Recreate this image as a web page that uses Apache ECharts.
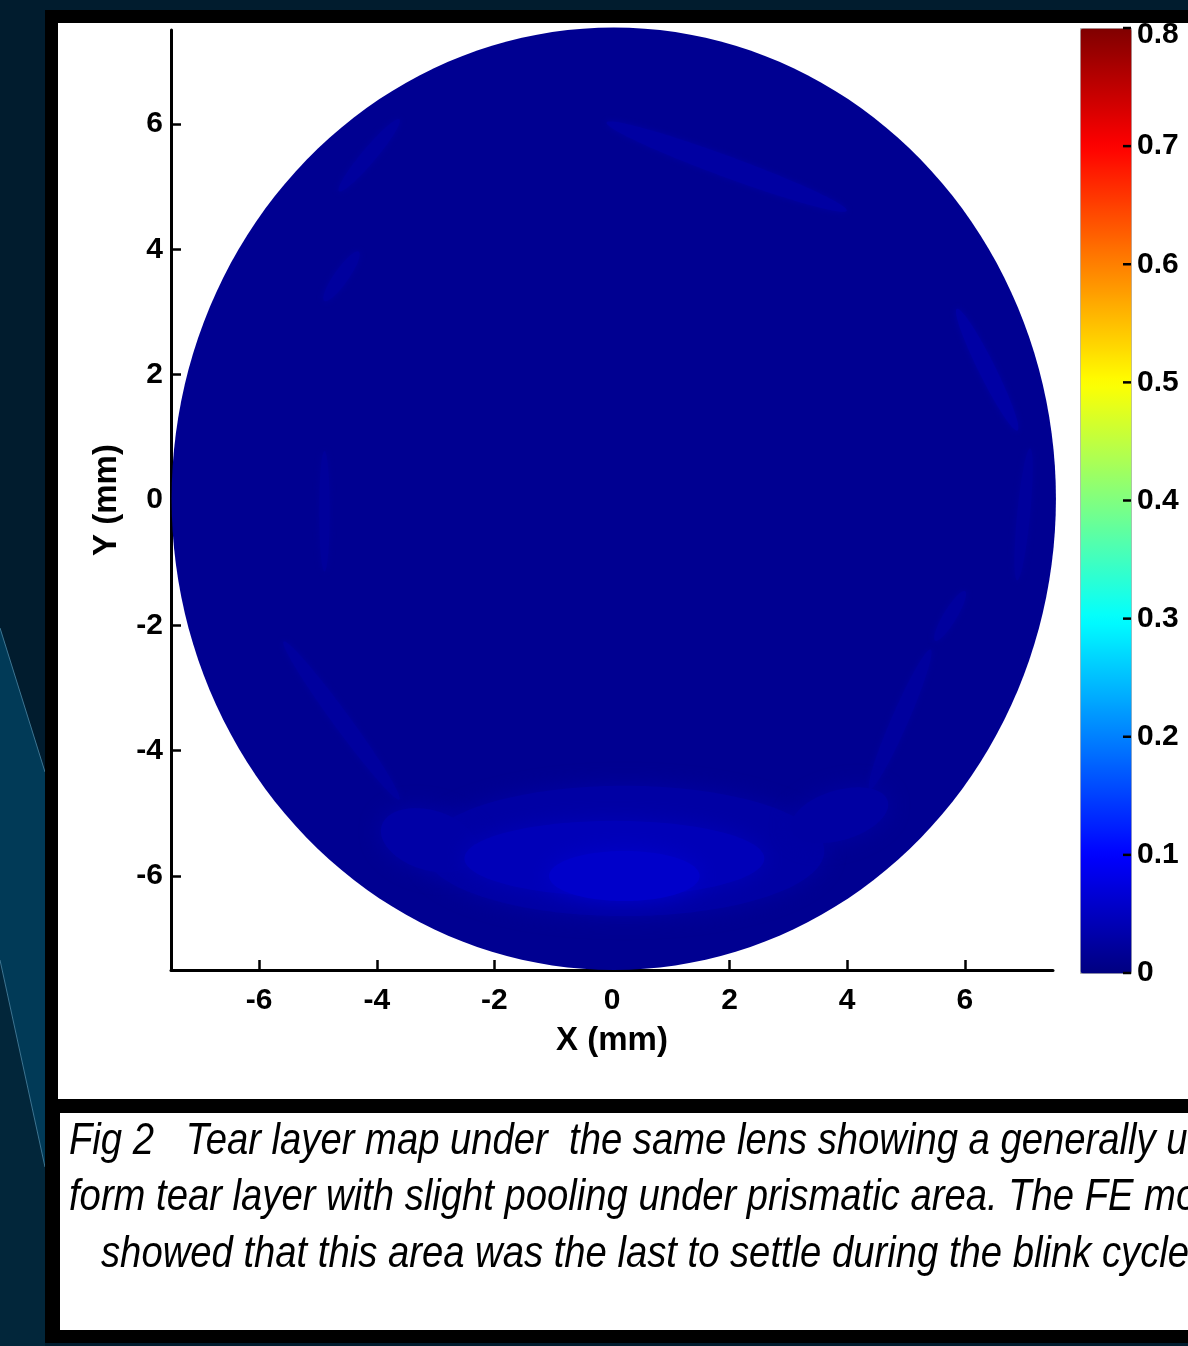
<!DOCTYPE html>
<html>
<head>
<meta charset="utf-8">
<script src="https://cdn.jsdelivr.net/npm/echarts@6/dist/echarts.min.js"></script>
<style>
  html, body { margin: 0; padding: 0; background: #011c2e; }
  #tearMap { width: 1188px; height: 1346px; }
</style>
</head>
<body>
<div id="tearMap"></div>
<script>
// tick labels
const xTicks = [-6, -4, -2, 0, 2, 4, 6];
const yTicks = [-6, -4, -2, 0, 2, 4, 6];
const cbTicks = [0, 0.1, 0.2, 0.3, 0.4, 0.5, 0.6, 0.7, 0.8];

// tear layer regions in mm: [cx, cy, rx, ry, angleDeg, thickness]
const lensDisc = [[0.03, 0.02, 7.52, 7.52, 0, 0.013]];
const rimStreaks = [
  [1.95, 5.32, 2.16, 0.17, -19, 0.027],
  [-4.13, 5.5, 0.77, 0.12, 48, 0.024],
  [-4.6, 3.57, 0.49, 0.12, 53, 0.024],
  [-4.89, -0.18, 0.96, 0.09, 90, 0.021],
  [6.38, 2.08, 1.1, 0.14, -62, 0.028],
  [7.0, -0.23, 1.06, 0.11, 84, 0.022],
  [5.75, -1.85, 0.47, 0.11, 57, 0.024],
  [-4.6, -3.52, 1.6, 0.14, -52, 0.024],
  [4.9, -3.5, 1.23, 0.14, 65, 0.024]
];
const poolPatches = [
  [0.21, -5.6, 3.4, 1.04, 0, 0.028],
  [-3.1, -5.43, 0.85, 0.48, -15, 0.03],
  [3.87, -5.03, 0.85, 0.4, 15, 0.027],
  [0.04, -5.72, 2.55, 0.6, 0, 0.044],
  [0.21, -6.0, 1.28, 0.4, 0, 0.058]
];

const captionLines = [
  'Fig 2   Tear layer map under  the same lens showing a generally uni-',
  'form tear layer with slight pooling under prismatic area. The FE model',
  'showed that this area was the last to settle during the blink cycle.'
];

// jet colour map
const jet = ['#000080', '#0000ff', '#0080ff', '#00ffff', '#80ff80', '#ffff00', '#ff8000', '#ff0000', '#800000'];

const font = 'Liberation Sans, Arial, sans-serif';

function ellipsePoints(api, cx, cy, rx, ry, deg) {
  const a = deg * Math.PI / 180;
  const pts = [];
  for (let i = 0; i < 180; i++) {
    const t = i / 180 * Math.PI * 2;
    const lx = rx * Math.cos(t), ly = ry * Math.sin(t);
    pts.push(api.coord([cx + lx * Math.cos(a) - ly * Math.sin(a), cy + lx * Math.sin(a) + ly * Math.cos(a)]));
  }
  return pts;
}

function renderEllipse(blur) {
  return function (params, api) {
    const pts = ellipsePoints(api, api.value(0), api.value(1), api.value(2), api.value(3), api.value(4));
    const d = lensDisc[0];
    const color = api.visual('color');
    const el = {
      type: 'polygon',
      shape: { points: pts },
      style: { fill: color, shadowBlur: blur, shadowColor: color }
    };
    if (blur) {
      // keep soft edges inside the lens
      el.clipPath = { type: 'polygon', shape: { points: ellipsePoints(api, d[0], d[1], d[2], d[3], 0) } };
    }
    return el;
  };
}

// colorbar tick marks on the bar's right edge
function renderCbTick(params, api) {
  const p = api.coord([api.value(0), api.value(1)]);
  return {
    type: 'line',
    shape: { x1: p[0] - 8, y1: p[1], x2: p[0], y2: p[1] },
    style: { stroke: '#000', lineWidth: 2.5 }
  };
}

// caption width (text is condensed in the figure)
const ctx = document.createElement('canvas').getContext('2d');
ctx.font = 'italic 44px "Liberation Sans"';
const capScale = 1088 / ctx.measureText('showed that this area was the last to settle during the blink cycle').width;

const chart = echarts.init(document.getElementById('tearMap'));
chart.setOption({
  animation: false,
  backgroundColor: '#011c2e',
  textStyle: { fontFamily: font },
  grid: [
    { left: 171, top: 30, width: 882, height: 940, outerBoundsMode: 'none' },
    { left: 1080, top: 28, width: 51, height: 945, outerBoundsMode: 'none' }
  ],
  xAxis: [
    {
      type: 'value', min: -7.5, max: 7.5,
      name: 'X (mm)', nameLocation: 'middle', nameGap: 54,
      nameTextStyle: { fontSize: 33, fontWeight: 'bold', color: '#000', fontFamily: font },
      axisLine: { onZero: false, lineStyle: { color: '#000', width: 3 } },
      axisTick: { inside: true, length: 10, customValues: xTicks, lineStyle: { color: '#000', width: 2.5 } },
      axisLabel: { customValues: xTicks, fontSize: 30, fontWeight: 'bold', color: '#000', margin: 16, fontFamily: font },
      splitLine: { show: false }
    },
    { type: 'value', gridIndex: 1, min: 0, max: 1, show: false }
  ],
  yAxis: [
    {
      type: 'value', min: -7.5, max: 7.5,
      name: 'Y (mm)', nameLocation: 'middle', nameGap: 48,
      nameTextStyle: { fontSize: 33, fontWeight: 'bold', color: '#000', fontFamily: font },
      axisLine: { onZero: false, lineStyle: { color: '#000', width: 3 } },
      axisTick: { inside: true, length: 10, customValues: yTicks, lineStyle: { color: '#000', width: 2.5 } },
      axisLabel: { customValues: yTicks, fontSize: 30, fontWeight: 'bold', color: '#000', margin: 8, fontFamily: font },
      splitLine: { show: false }
    },
    {
      type: 'value', gridIndex: 1, position: 'right', min: 0, max: 0.8,
      axisLine: { show: false },
      axisTick: { show: false },
      axisLabel: {
        customValues: cbTicks, fontSize: 30, fontWeight: 'bold', color: '#000', margin: 6, fontFamily: font,
        formatter: function (v) { return v === 0.8 ? '{top|0.8}' : String(v); },
        rich: { top: { fontSize: 30, fontWeight: 'bold', color: '#000', fontFamily: font, padding: [14, 0, 0, 0] } }
      },
      splitLine: { show: false }
    }
  ],
  visualMap: {
    type: 'continuous',
    min: 0, max: 0.8,
    dimension: 5,
    seriesIndex: [0, 1, 2],
    inRange: { color: jet },
    calculable: false,
    hoverLink: false,
    left: 1080, top: 28,
    itemWidth: 51, itemHeight: 945,
    padding: 0,
    text: null,
    z: 1,
    borderColor: '#aaa', borderWidth: 1
  },
  series: [
    { type: 'custom', name: 'lens', renderItem: renderEllipse(0), data: lensDisc, z: 2 },
    { type: 'custom', name: 'streaks', renderItem: renderEllipse(6), data: rimStreaks, z: 3 },
    { type: 'custom', name: 'pooling', renderItem: renderEllipse(22), data: poolPatches, z: 4 },
    {
      type: 'custom', name: 'cbTicks', xAxisIndex: 1, yAxisIndex: 1, z: 10,
      renderItem: renderCbTick,
      data: cbTicks.map(function (v) { return [1, v]; }),
      encode: { x: 0, y: 1 }
    }
  ],
  graphic: [
    { type: 'polygon', z: -100, shape: { points: [[0, 628], [45, 772], [45, 1167], [0, 960]] }, style: { fill: '#013a57' } },
    { type: 'polygon', z: -100, shape: { points: [[0, 960], [45, 1167], [45, 1346], [0, 1346]] }, style: { fill: '#02263a' } },
    { type: 'polyline', z: -99, shape: { points: [[0, 628], [45, 772]] }, style: { stroke: '#3d7592', lineWidth: 1 } },
    { type: 'polyline', z: -99, shape: { points: [[0, 960], [45, 1167]] }, style: { stroke: '#3d7592', lineWidth: 1 } },
    { type: 'rect', z: -90, shape: { x: 45, y: 10, width: 1200, height: 1333 }, style: { fill: '#000' } },
    { type: 'rect', z: -80, shape: { x: 58, y: 23, width: 1140, height: 1076 }, style: { fill: '#fff' } },
    { type: 'rect', z: -80, shape: { x: 60, y: 1113, width: 1140, height: 217 }, style: { fill: '#fff' } },
    {
      type: 'text', z: 10, x: 69, y: 1142, scaleX: capScale,
      style: { text: captionLines[0], x: 0, y: 0, font: 'italic 44px "Liberation Sans"', fill: '#000', verticalAlign: 'middle', textVerticalAlign: 'middle' }
    },
    {
      type: 'text', z: 10, x: 69, y: 1198, scaleX: capScale,
      style: { text: captionLines[1], x: 0, y: 0, font: 'italic 44px "Liberation Sans"', fill: '#000', verticalAlign: 'middle', textVerticalAlign: 'middle' }
    },
    {
      type: 'text', z: 10, x: 101, y: 1255, scaleX: capScale,
      style: { text: captionLines[2], x: 0, y: 0, font: 'italic 44px "Liberation Sans"', fill: '#000', verticalAlign: 'middle', textVerticalAlign: 'middle' }
    }
  ]
});
</script>
</body>
</html>
